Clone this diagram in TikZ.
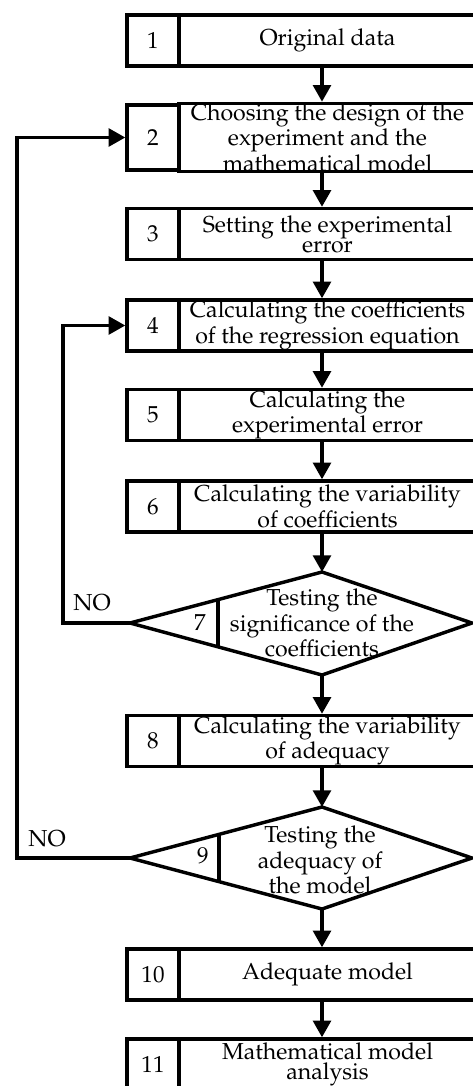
\documentclass[tikz,border=0pt]{standalone}
\usepackage[T1]{fontenc}
\usepackage{mathpazo}
\usetikzlibrary{arrows.meta,calc}

\begin{document}
\begin{tikzpicture}[x=0.45pt, y=-0.45pt, line width=1.55pt,
		numcell/.style={draw, minimum width=23.4pt, minimum height=22.95pt, inner sep=0pt, font=\fontsize{10.4}{9.1}\selectfont},
		txtcell/.style={draw, minimum width=133.65pt, minimum height=22.95pt, inner sep=0pt, align=center, font=\fontsize{10.4}{9.1}\selectfont},
		tall/.style={minimum height=29.25pt},
		lbl/.style={inner sep=0pt, align=center, font=\fontsize{10.4}{9.1}\selectfont},
		flow/.style={-{Triangle[length=7.5pt,width=8pt]}}]
		\useasboundingbox (0,0) rectangle (472,1086);
		\coordinate (axis) at (322,0);

		\node[numcell] (n1) at (153,40.5) {1};
		\node[txtcell] (t1) at (327.5,40.5) {Original data};
		\node[numcell, tall] (n2) at (153,137.5) {2};
		\node[txtcell, tall] (t2) at (327.5,137.5) {Choosing the design of the\\experiment and the\\mathematical model};
		\node[numcell] (n3) at (153,234) {3};
		\node[txtcell] (t3) at (327.5,234) {Setting the experimental\\error};
		\node[numcell] (n4) at (153,325.5) {4};
		\node[txtcell] (t4) at (327.5,325.5) {Calculating the coefficients\\of the regression equation};
		\node[numcell] (n5) at (153,415) {5};
		\node[txtcell] (t5) at (327.5,415) {Calculating the\\experimental error};
		\node[numcell] (n6) at (153,506.5) {6};
		\node[txtcell] (t6) at (327.5,506.5) {Calculating the variability\\of coefficients};

		\coordinate (d7w) at (130,623);
		\coordinate (d7n) at (322,572);
		\coordinate (d7e) at (472,623);
		\coordinate (d7s) at (322,675);
		\draw[line join=miter] (d7w) -- (d7n) -- (d7e) -- (d7s) -- cycle;
		\draw ($(d7w)!0.458!(d7n)$) -- ($(d7w)!0.458!(d7s)$);
		\node[lbl] (k7) at (200,623) {7};
		\node[lbl] (q7) at (322,623) {Testing the\\significance of the\\coefficients};

		\node[numcell] (n8) at (153,741) {8};
		\node[txtcell] (t8) at (327.5,741) {Calculating the variability\\of adequacy};

		\coordinate (d9w) at (130,858);
		\coordinate (d9n) at (322,807);
		\coordinate (d9e) at (472,858);
		\coordinate (d9s) at (322,909);
		\draw[line join=miter] (d9w) -- (d9n) -- (d9e) -- (d9s) -- cycle;
		\draw ($(d9w)!0.464!(d9n)$) -- ($(d9w)!0.464!(d9s)$);
		\node[lbl] (k9) at (203,856) {9};
		\node[lbl] (q9) at (320,860) {Testing the\\adequacy of\\the model};

		\node[numcell] (n10) at (153,974.5) {10};
		\node[txtcell] (t10) at (327.5,974.5) {Adequate model};
		\node[numcell] (n11) at (153,1064.5) {11};
		\node[txtcell] (t11) at (327.5,1064.5) {Mathematical model\\analysis};

		\draw[flow] (t1.south -| axis) -- (t2.north -| axis);
		\draw[flow] (t2.south -| axis) -- (t3.north -| axis);
		\draw[flow] (t3.south -| axis) -- (t4.north -| axis);
		\draw[flow] (t4.south -| axis) -- (t5.north -| axis);
		\draw[flow] (t5.south -| axis) -- (t6.north -| axis);
		\draw[flow] (t6.south -| axis) -- (d7n);
		\draw[flow] (d7s) -- (t8.north -| axis);
		\draw[flow] (t8.south -| axis) -- (d9n);
		\draw[flow] (d9s) -- (t10.north -| axis);
		\draw[flow] (t10.south -| axis) -- (t11.north -| axis);

		\draw[flow] (d7w) -- ++(-67,0) |- (n4.west);
		\draw[flow] (d9w) -- ++(-113,0) |- (n2.west);
		\node[lbl] (no7) at (92,603) {NO};
		\node[lbl] (no9) at (47,839) {NO};
	\end{tikzpicture}
\end{document}
